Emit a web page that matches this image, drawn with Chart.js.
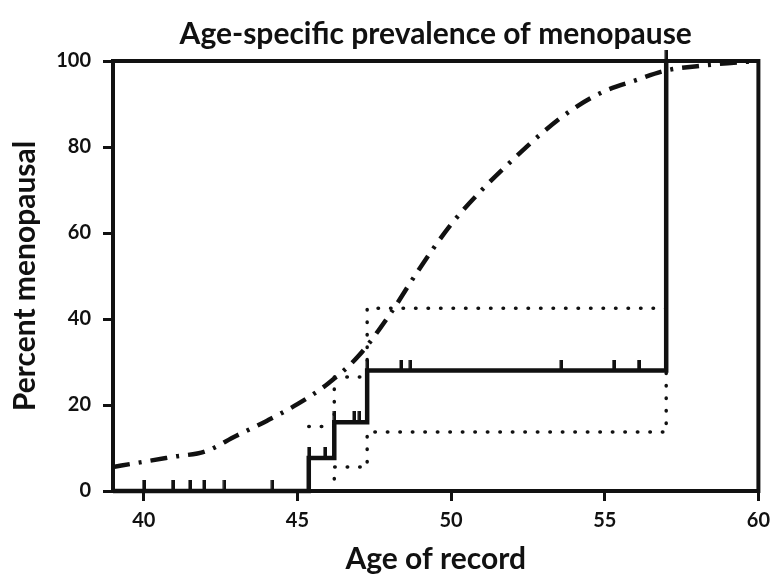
<!DOCTYPE html>
<html>
<head>
<meta charset="utf-8">
<script src="https://cdn.jsdelivr.net/npm/chart.js@4.4.0/dist/chart.umd.min.js"></script>
<style>
  html, body { margin: 0; padding: 0; background: #fff; }
  #wrap { width: 778px; height: 577px; }
</style>
</head>
<body>
<div id="wrap"><canvas id="chart" width="778" height="577"></canvas></div>
<script>
// population prevalence (dash-dot curve)
const ages = [39, 40, 41, 42, 43, 44, 45, 46, 47, 48, 49, 50, 51, 52, 53, 54, 55, 56, 57, 58, 59, 60];
const prevalence = [5.6, 6.8, 8.0, 9.2, 12.8, 16.3, 20.2, 25.0, 31.5, 41.0, 52.0, 62.0, 70.0, 77.0, 83.5, 89.0, 93.0, 95.5, 97.8, 98.8, 99.5, 100];

// Kaplan-Meier style step curve
const stepAge = [39, 45.37, 46.2, 47.27, 57];
const stepPct = [0, 7.7, 16, 28, 100];

// confidence limits
const upperAge = [45.37, 46.2, 47.27, 57];
const upperPct = [15, 26.5, 42.5, 42.5];
const lowerAge = [45.37, 46.2, 47.27, 57, 57];
const lowerPct = [0, 5.6, 13.7, 13.7, 28];

// censored records
const censorAge = [40.0, 40.94, 41.5, 41.96, 42.62, 44.18, 45.37, 45.89, 46.2, 46.84, 47.01,
                   47.27, 48.37, 48.67, 53.58, 55.29, 56.1, 57];
const censorPct = [0, 0, 0, 0, 0, 0, 7.7, 7.7, 16, 16, 16, 28, 28, 28, 28, 28, 28, 100];

const xTicks = [40, 45, 50, 55, 60];
const yTicks = [0, 20, 40, 60, 80, 100];

function pts(xs, ys) {
  return xs.map((x, i) => ({ x: x, y: ys[i] }));
}

// small vertical tick used as the censor mark (upper half only)
const mark = document.createElement('canvas');
mark.width = 4;
mark.height = 22;
const mctx = mark.getContext('2d');
mctx.fillStyle = '#111';
mctx.fillRect(0.5, 0, 3.5, 12);

const frame = {
  id: 'frame',
  beforeDatasetsDraw(chart) {
    const a = chart.chartArea;
    const ctx = chart.ctx;
    ctx.save();
    ctx.strokeStyle = '#111';
    ctx.lineWidth = 4;
    ctx.strokeRect(a.left, a.top, a.right - a.left, a.bottom - a.top);
    ctx.restore();
  }
};

const font = 'Lato, "Open Sans", sans-serif';

new Chart(document.getElementById('chart').getContext('2d'), {
  type: 'line',
  data: {
    datasets: [
      {
        data: pts(stepAge, stepPct),
        stepped: 'before',
        borderColor: '#111',
        borderWidth: 4.5,
        pointRadius: 0,
        clip: false
      },
      {
        data: pts(censorAge, censorPct),
        showLine: false,
        pointStyle: mark,
        pointRadius: 3,
        clip: false
      },
      {
        data: pts(upperAge, upperPct),
        stepped: 'before',
        borderColor: '#111',
        borderWidth: 3.5,
        borderDash: [0.5, 12],
        borderCapStyle: 'round',
        pointRadius: 0
      },
      {
        data: pts(lowerAge, lowerPct),
        stepped: 'before',
        borderColor: '#111',
        borderWidth: 3.5,
        borderDash: [0.5, 12],
        borderCapStyle: 'round',
        pointRadius: 0
      },
      {
        data: pts(ages, prevalence),
        borderColor: '#111',
        borderWidth: 4.5,
        borderDash: [17, 9, 3, 9],
        cubicInterpolationMode: 'monotone',
        pointRadius: 0
      }
    ]
  },
  options: {
    responsive: false,
    animation: false,
    events: [],
    layout: { padding: { left: 0, right: 17, top: 0, bottom: 0 } },
    plugins: {
      legend: { display: false },
      tooltip: { enabled: false },
      title: {
        display: true,
        fullSize: false,
        text: 'Age-specific prevalence of menopause',
        color: '#111',
        font: { family: font, size: 30, weight: 'bold' },
        padding: { top: 16.5, bottom: 8.5 }
      }
    },
    scales: {
      x: {
        type: 'linear',
        min: 39,
        max: 60,
        afterBuildTicks: (s) => { s.ticks = xTicks.map(v => ({ value: v })); },
        afterFit: (s) => { s.height = 86; },
        grid: { display: true, drawOnChartArea: false, drawTicks: true, tickLength: 10, color: '#111', lineWidth: 3 },
        border: { display: false },
        ticks: { color: '#111', padding: 8, maxRotation: 0, font: { family: font, size: 20, weight: 'bold' } },
        title: {
          display: true,
          text: 'Age of record',
          color: '#111',
          font: { family: font, size: 30, weight: 'bold' },
          padding: { top: 0, bottom: 0 }
        }
      },
      y: {
        min: 0,
        max: 100,
        afterBuildTicks: (s) => { s.ticks = yTicks.map(v => ({ value: v })); },
        afterFit: (s) => { s.width = 113; },
        grid: { display: true, drawOnChartArea: false, drawTicks: true, tickLength: 10, color: '#111', lineWidth: 3 },
        border: { display: false },
        ticks: { color: '#111', padding: 12, font: { family: font, size: 20, weight: 'bold' } },
        title: {
          display: true,
          text: 'Percent menopausal',
          color: '#111',
          font: { family: font, size: 30, weight: 'bold' },
          padding: { top: 7, bottom: 0 }
        }
      }
    }
  },
  plugins: [frame]
});
</script>
</body>
</html>
